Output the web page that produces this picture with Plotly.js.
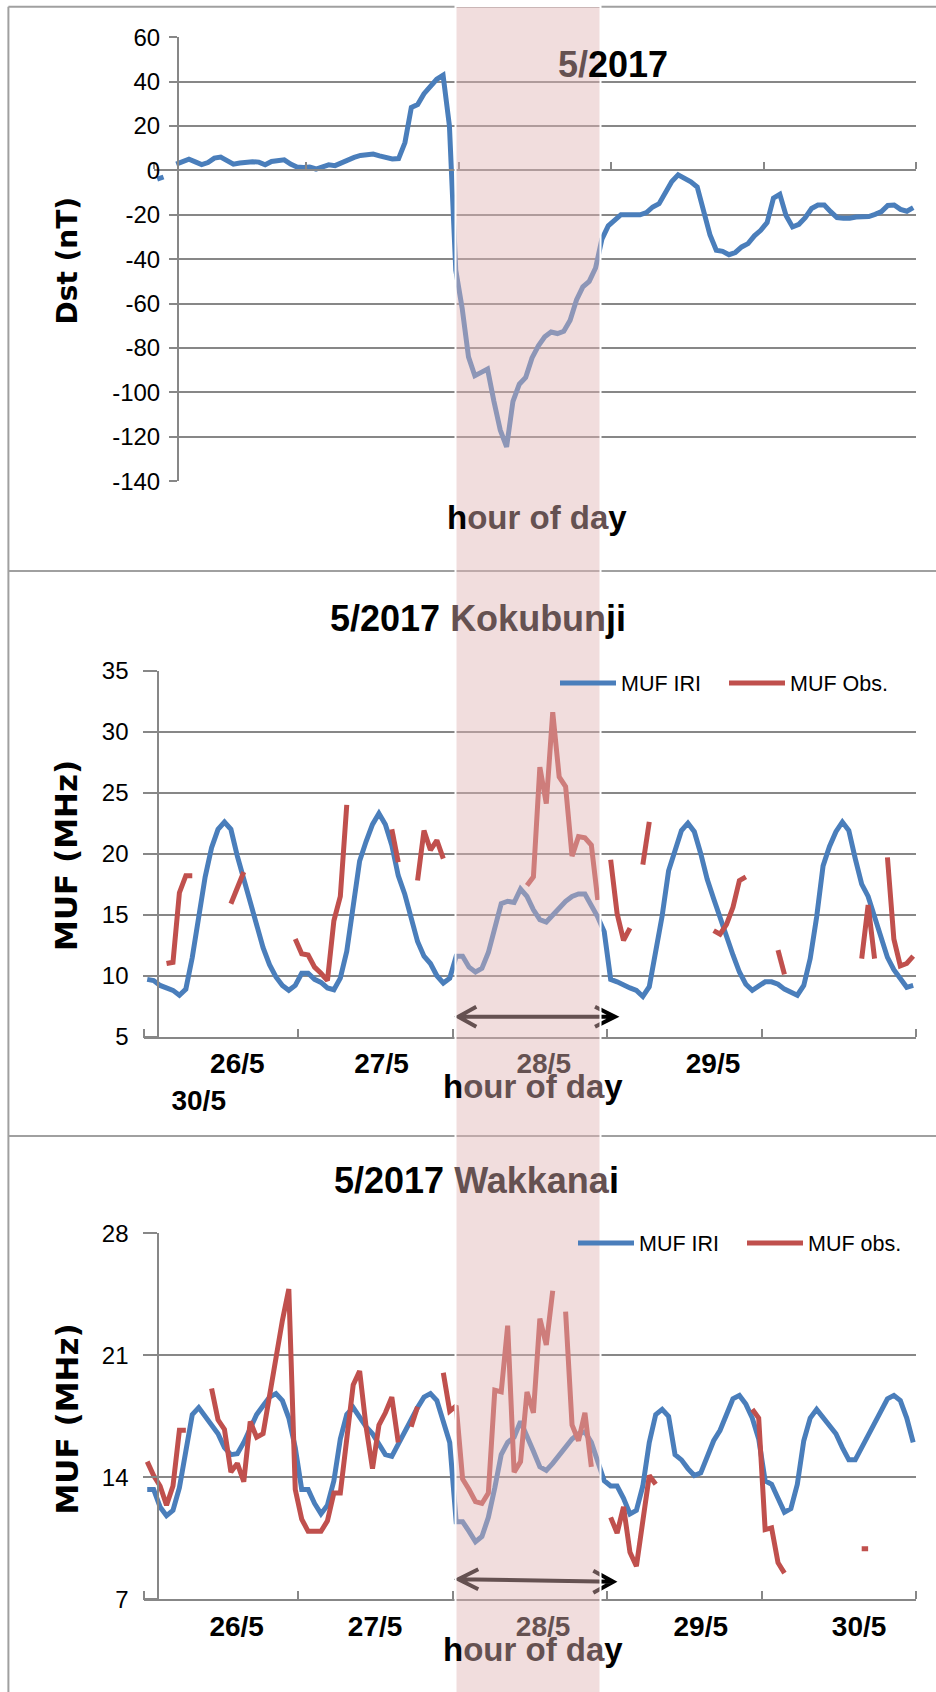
<!DOCTYPE html>
<html><head><meta charset="utf-8">
<script src="https://cdn.plot.ly/plotly-3.0.1.min.js"></script>
<style>html,body{margin:0;padding:0;background:#fff;}#chart{width:936px;height:1692px;}</style>
</head><body><div id="chart"></div>
<script>
// hour index from 26/5 00h to 30/5 23h
const hours = Array.from({length:120}, (_, i) => i);

const dst = [-4, -3, null, 2.8, 4, 5, 3.8, 2.6, 3.5, 5.5,
 6, 4.3, 2.8, 3.3, 3.7, 3.9, 3.7, 2.5, 4, 4.2,
 4.7, 2.8, 1.5, 1.3, 1.5, 0.6, 1.8, 2.5, 2.1, 3.5,
 5, 5.8, 6.7, 7.2, 7.3, 6.5, 5.8, 5.1, 5.3, 12.5,
 28.3, 29.6, 34.5, 37.9, 41, 42.8, 20, -45, -62, -84,
 -92.5, -91, -89.5, -104, -117, -124.5, -104, -96.3, -93.3, -84.5,
 -79, -75, -72.8, -73.5, -72.5, -67.5, -58.4, -52.5, -50, -44,
 -31, -25, -22.5, -20, -20, -20, -20, -19, -16.5, -15,
 -10, -5, -2, -3.5, -5.2, -7.5, -17.5, -29, -36, -36.5,
 -38, -37, -34.5, -33, -29.5, -27, -23.5, -12.5, -10.8, -20.5,
 -25.5, -24.3, -21.3, -17.2, -15.6, -15.6, -18.6, -21.3, -21.6, -21.6,
 -21, -21, -20.8, -19.8, -18.6, -15.8, -15.6, -17.6, -18.4, -16.8];

const kokuIRI = [9.7, 9.6, 9.2, 8.95, 8.8, 8.4, 8.9, 11.5, 15.0, 18.1,
 20.5, 22.0, 22.6, 22.0, 19.8, 18.0, 16.0, 14.3, 12.3, 10.9,
 9.9, 9.2, 8.8, 9.2, 10.2, 10.2, 9.7, 9.45, 9.0, 8.85,
 9.8, 12.0, 15.6, 19.4, 21.0, 22.4, 23.3, 22.4, 20.7, 18.2,
 16.7, 14.6, 12.8, 11.6, 11.0, 10.0, 9.4, 9.8, 11.6, 11.6,
 10.7, 10.3, 10.6, 11.9, 14.0, 15.9, 16.1, 16.0, 17.1, 16.5,
 15.4, 14.6, 14.4, 15.0, 15.5, 16.1, 16.5, 16.7, 16.7, 15.8,
 14.8, 13.6, 9.7, 9.5, 9.2, 9.0, 8.8, 8.3, 9.1, 12.0,
 14.9, 18.6, 20.4, 21.9, 22.5, 21.8, 20.0, 17.9, 16.3, 14.7,
 13.1, 11.7, 10.3, 9.3, 8.8, 9.1, 9.5, 9.5, 9.3, 8.9,
 8.6, 8.4, 9.2, 11.4, 14.8, 19.0, 20.6, 21.8, 22.6, 21.9,
 19.6, 17.5, 16.5, 14.9, 13.1, 11.5, 10.5, 9.8, 9.05, 9.2];

const kokuObs = [null, null, null, 11.0, 11.1, 16.8, 18.2, 18.2, null, null,
 null, null, null, 15.9, 17.1, 18.5, null, null, null, null,
 null, null, null, 13.0, 11.8, 11.7, 10.7, 10.2, 9.6, 14.5,
 16.5, 24.0, null, null, null, null, null, null, 22.0, 19.3,
 null, null, 17.8, 21.9, 20.3, 21.1, 19.6, null, null, null,
 null, null, null, null, null, null, null, null, null, 17.4,
 18.1, 27.1, 24.1, 31.6, 26.3, 25.5, 19.8, 21.4, 21.3, 20.7,
 16.2, null, 19.5, 15.1, 12.9, 13.9, null, 19.1, 22.6, null,
 null, null, null, null, null, null, null, null, 13.7, 13.4,
 14.2, 15.6, 17.8, 18.1, null, null, null, null, 12.1, 10.1,
 null, null, null, null, null, null, null, null, null, null,
 null, 11.4, 15.8, 11.4, null, 19.7, 13.0, 10.8, 11.0, 11.6];

const wakkIRI = [13.3, 13.3, 12.3, 11.8, 12.1, 13.4, 15.5, 17.6, 18.0, 17.5,
 17.0, 16.5, 15.7, 15.3, 15.35, 16.0, 16.8, 17.6, 18.1, 18.6,
 18.8, 18.4, 17.4, 15.7, 13.3, 13.3, 12.5, 11.9, 12.4, 13.8,
 16.2, 17.6, 18.0, 17.4, 16.9, 16.5, 15.85, 15.3, 15.2, 15.9,
 16.7, 17.4, 18.0, 18.6, 18.8, 18.4, 17.3, 16.0, 11.45, 11.45,
 10.9, 10.3, 10.6, 11.7, 13.4, 15.3, 16.0, 16.3, 17.2, 16.4,
 15.5, 14.6, 14.4, 14.8, 15.3, 15.8, 16.2, 16.5, 16.6, 16.0,
 15.0, 13.8, 13.5, 13.5, 12.8, 11.9, 12.1, 13.5, 16.0, 17.6,
 17.9, 17.5, 15.3, 15.0, 14.5, 14.1, 14.25, 15.1, 16.1, 16.7,
 17.6, 18.5, 18.7, 18.2, 17.4, 16.2, 13.8, 13.6, 12.8, 12.0,
 12.2, 13.6, 16.1, 17.4, 17.9, 17.4, 16.9, 16.5, 15.7, 15.0,
 15.0, 15.7, 16.4, 17.1, 17.8, 18.5, 18.7, 18.4, 17.4, 16.0];

const wakkObs = [14.9, 14.1, 13.5, 12.4, 13.5, 16.7, 16.7, null, null, null,
 19.1, 17.3, 16.75, 14.3, 14.8, 13.75, 17.2, 16.3, 16.5, 18.7,
 20.6, 23.0, 24.8, 13.3, 11.6, 10.9, 10.9, 10.9, 11.5, 13.1,
 13.1, 16.1, 19.3, 20.1, 16.9, 14.5, 17.0, 17.7, 18.6, 16.0,
 null, 16.9, 18.05, null, null, null, 20.0, 17.8, 18.1, 13.9,
 13.3, 12.6, 12.5, 13.1, 19.0, 18.9, 22.7, 14.3, 14.9, 18.9,
 17.7, 23.1, 21.6, 24.7, null, 23.5, 17.0, 16.1, 17.7, 14.6,
 null, null, 11.7, 10.8, 12.3, 9.7, 8.9, 11.5, 14.1, 13.6,
 null, null, null, null, null, null, null, null, null, null,
 null, null, null, null, 17.9, 17.4, 11.0, 11.1, 9.1, 8.5,
 null, null, null, null, null, null, null, null, null, null,
 null, 9.9, 9.9, null, null, null, null, null, null, null];

const dstTicks = [-140, -120, -100, -80, -60, -40, -20, 0, 20, 40, 60];
const dstTickText = ['-140', '-120', '-100', '-80', '-60', '-40', '-20', '0', '20', '40', '60'];
const dayLabels2 = ['26/5', '27/5', '28/5', '29/5', '<br>30/5'];
const dayLabels3 = ['26/5', '27/5', '28/5', '29/5', '30/5'];

const W = 936, H = 1692;
const px = v => v / W;
const py = v => 1 - v / H;

const blue = '#4a7ebb', red = '#c0504d', gridC = '#878787', frameC = '#a0a0a0';
const tint = 'rgb(101,81,81)';
const T = s => `<span style="color:${tint}">${s}</span>`;
const sans = 'Liberation Sans, Arial, sans-serif';
const wide = 'DejaVu Sans, Verdana, sans-serif';

const yFont = {family: sans, size: 24, color: '#000'};
const xFont = {family: sans, size: 28, color: '#000', weight: 700};
const LW = 5;

function yAxis(dom, range, dtick, tick0, pos, ticklen, standoff) {
  return {domain: dom, range: range, anchor: 'free', position: pos, tickmode: 'linear',
    dtick: dtick, tick0: tick0, showgrid: true, gridcolor: gridC, gridwidth: 2,
    zeroline: false, showline: true, linecolor: gridC, linewidth: 2,
    ticks: 'outside', ticklen: ticklen, tickwidth: 2, tickcolor: gridC,
    tickfont: yFont, ticklabelstandoff: standoff, fixedrange: true, automargin: false};
}
const minorTicks = {tickmode: 'linear', tick0: -0.5, dtick: 24, ticks: 'inside',
  ticklen: 8, tickwidth: 2, tickcolor: gridC, showgrid: false};

const traces = [
  {x: hours, y: dst, xaxis: 'x', yaxis: 'y', type: 'scatter', mode: 'lines',
   line: {color: blue, width: LW}, name: 'Dst', showlegend: false, connectgaps: false},
  {x: hours, y: kokuIRI, xaxis: 'x2', yaxis: 'y2', type: 'scatter', mode: 'lines',
   line: {color: blue, width: LW}, name: 'MUF IRI', legend: 'legend'},
  {x: hours, y: kokuObs, xaxis: 'x2', yaxis: 'y2', type: 'scatter', mode: 'lines',
   line: {color: red, width: LW}, name: 'MUF Obs.', legend: 'legend', connectgaps: false},
  {x: hours, y: wakkIRI, xaxis: 'x3', yaxis: 'y3', type: 'scatter', mode: 'lines',
   line: {color: blue, width: LW}, name: 'MUF IRI', legend: 'legend2'},
  {x: hours, y: wakkObs, xaxis: 'x3', yaxis: 'y3', type: 'scatter', mode: 'lines',
   line: {color: red, width: LW}, name: 'MUF obs.', legend: 'legend2', connectgaps: false}
];

function arrowPath(x1, y1, x2, y2, h1, h2) {
  return `M${px(x1+h1[0])},${py(y1-h1[1])} L${px(x1)},${py(y1)} L${px(x1+h1[0])},${py(y1+h1[1])} ` +
         `M${px(x1)},${py(y1)} L${px(x2)},${py(y2)} ` +
         `M${px(x2-h2[0])},${py(y2-h2[1])} L${px(x2)},${py(y2)} L${px(x2-h2[0])},${py(y2+h2[1])}`;
}
function hline(x0, x1, y, c, w) {
  return {type: 'line', xref: 'paper', yref: 'paper', x0: px(x0), x1: px(x1), y0: py(y), y1: py(y),
    line: {color: c, width: w}, layer: 'above'};
}

const shapes = [
  {type: 'rect', xref: 'x', yref: 'y', x0: -0.7, x1: 2.0, y0: -140, y1: 60,
   fillcolor: '#ffffff', line: {width: 0}, layer: 'between'},
  hline(8.4, 940, 6.7, frameC, 2),
  hline(8.4, 940, 571, frameC, 2),
  hline(8.4, 940, 1136, frameC, 2),
  {type: 'line', xref: 'paper', yref: 'paper', x0: px(8.4), x1: px(8.4), y0: py(6.7), y1: py(1700),
   line: {color: frameC, width: 2}, layer: 'above'},
  {type: 'path', xref: 'paper', yref: 'paper', path: arrowPath(458.3, 1016.7, 615, 1016.7, [18, 10], [20, 10]),
   line: {color: '#000', width: 4}, layer: 'above'},
  {type: 'path', xref: 'paper', yref: 'paper', path: arrowPath(458.3, 1579.3, 613.3, 1581.7, [20, 10], [20, 11]),
   line: {color: '#000', width: 4}, layer: 'above'},
  {type: 'rect', xref: 'paper', yref: 'paper', x0: px(455.5), x1: px(600.5), y0: py(1700), y1: py(6),
   fillcolor: 'rgba(225,180,180,0.45)', line: {color: '#ffffff', width: 2}, layer: 'above'}
];

function ann(text, x, y, font, extra) {
  return Object.assign({text: text, xref: 'paper', yref: 'paper', x: px(x), y: py(y),
    showarrow: false, xanchor: 'center', yanchor: 'middle', font: font}, extra || {});
}
const titleFont = {family: sans, size: 36, color: '#000', weight: 700};
const hodFont = {family: sans, size: 33, color: '#000', weight: 700};
const yTitleFont = s => ({family: wide, size: s, color: '#000', weight: 700});

const annotations = [
  ann(T('5/') + '2017', 612.5, 65, titleFont),
  ann('5/2017 ' + T('Kokubun') + 'ji', 477.7, 618.3, titleFont),
  ann('5/2017 ' + T('Wakkana') + 'i', 476.7, 1180.8, titleFont),
  ann('h' + T('our of da') + 'y', 537, 517, hodFont),
  ann('h' + T('our of da') + 'y', 533, 1086, hodFont),
  ann('h' + T('our of da') + 'y', 533, 1649, hodFont),
  ann('Dst (nT)', 66.5, 261, yTitleFont(28), {textangle: -90}),
  ann('MUF (MHz)', 66.5, 855.4, yTitleFont(31), {textangle: -90}),
  ann('MUF (MHz)', 66.5, 1419, yTitleFont(31), {textangle: -90})
];

const legendBase = {orientation: 'h', xanchor: 'left', yanchor: 'middle', bgcolor: 'rgba(0,0,0,0)',
  borderwidth: 0, itemwidth: 56, entrywidth: 98, font: {family: sans, size: 21.5, color: '#000'}};

const dstY = yAxis([py(481.2), py(37.1)], [-140, 60], 20, 0, px(178), 8, 4);
dstY.tickmode = 'array';
dstY.tickvals = dstTicks;
dstY.ticktext = dstTickText;

const layout = {
  width: W, height: H, margin: {l: 0, r: 0, t: 0, b: 0, pad: 0, autoexpand: false},
  paper_bgcolor: '#ffffff', plot_bgcolor: '#ffffff', hovermode: false,
  xaxis: {domain: [px(154), px(916.4)], range: [-0.5, 119.5], anchor: 'free', position: py(170.3),
    showgrid: false, zeroline: false, showline: true, linecolor: gridC, linewidth: 2,
    ticks: '', showticklabels: false, minor: Object.assign({}, minorTicks, {ticklen: 7}), fixedrange: true},
  yaxis: dstY,
  xaxis2: {domain: [px(144), px(916.4)], range: [-0.5, 119.5], anchor: 'y2',
    showgrid: false, zeroline: false, showline: true, linecolor: gridC, linewidth: 2,
    tickmode: 'array', tickvals: [14, 36.4, 61.6, 87.9, 8.0], ticktext: dayLabels2, ticks: '',
    tickangle: 0, tickfont: xFont, ticklabelstandoff: 1, minor: minorTicks, fixedrange: true},
  yaxis2: yAxis([py(1036.7), py(670.7)], [5, 35], 5, 5, px(158.3), 14, 10),
  xaxis3: {domain: [px(144), px(916.4)], range: [-0.5, 119.5], anchor: 'y3',
    showgrid: false, zeroline: false, showline: true, linecolor: gridC, linewidth: 2,
    tickmode: 'array', tickvals: [13.9, 35.4, 61.5, 86.0, 110.6], ticktext: dayLabels3, ticks: '',
    tickangle: 0, tickfont: xFont, ticklabelstandoff: 1, minor: minorTicks, fixedrange: true},
  yaxis3: yAxis([py(1599.3), py(1233.3)], [7, 28], 7, 7, px(158.3), 14, 10),
  legend: Object.assign({}, legendBase, {x: px(555), y: py(683)}),
  legend2: Object.assign({}, legendBase, {x: px(573), y: py(1243)}),
  shapes: shapes,
  annotations: annotations
};

Plotly.newPlot('chart', traces, layout, {displayModeBar: false, staticPlot: true});
</script>
</body></html>
